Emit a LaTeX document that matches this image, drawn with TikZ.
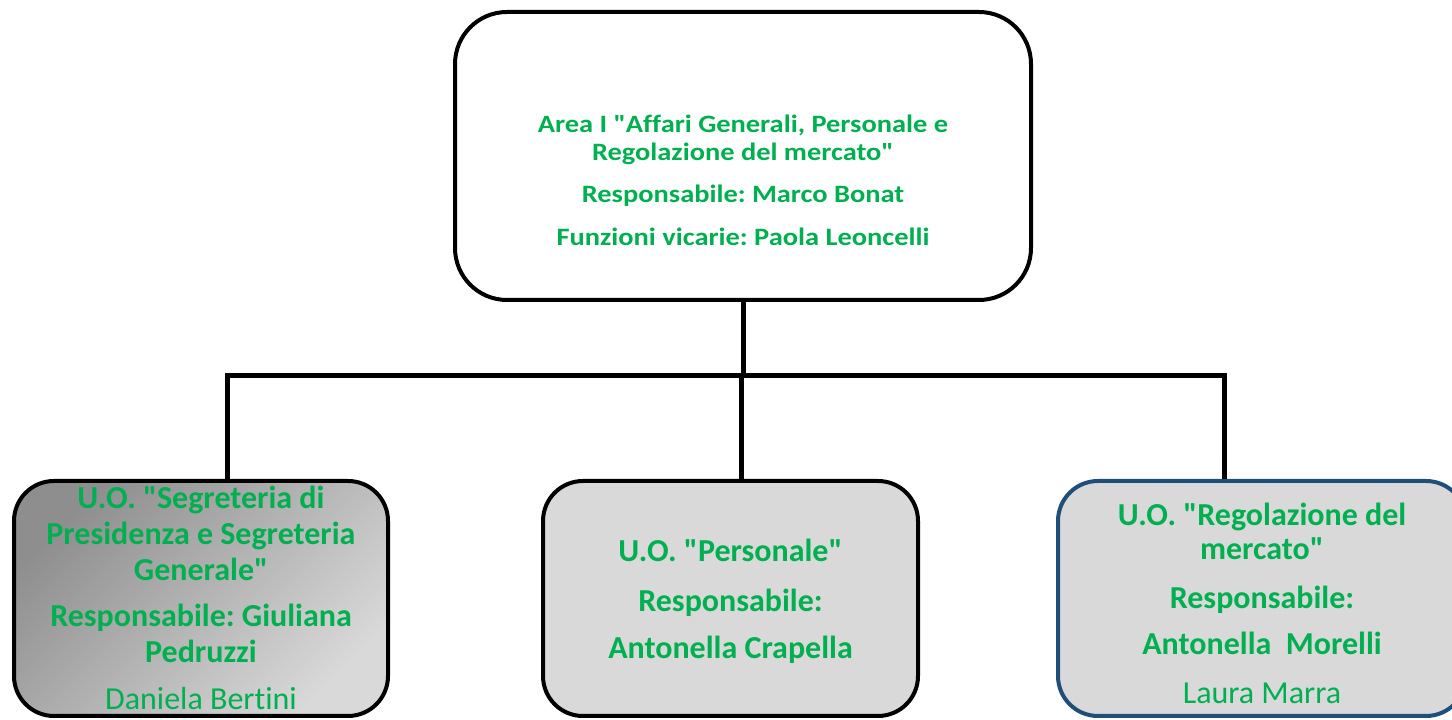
\documentclass[tikz,border=0pt]{standalone}
\usepackage{fontspec}
\setmainfont{Carlito}[Ligatures={TeXOff,NoCommon}]
\newfontfamily\topfont{Carlito}[Ligatures={TeXOff,NoCommon}, FakeStretch=1.137]
\definecolor{tgreen}{HTML}{00B050}
\definecolor{boxgray}{HTML}{D9D9D9}
\definecolor{darkgray2}{HTML}{8E8E8E}
\definecolor{navy}{HTML}{1F4E79}
\frenchspacing
\begin{document}
\begin{tikzpicture}[x=1pt,y=1pt,
  topbox/.style={draw=black, line width=4pt, rounded corners=52pt, fill=white,
    minimum width=576pt, minimum height=288pt, inner sep=0pt},
  unitbox/.style={draw=black, line width=4pt, rounded corners=40pt, fill=boxgray,
    minimum height=235pt, inner sep=0pt},
  toptext/.style={text=tgreen, align=center, font=\topfont\fontsize{25}{28}\selectfont\bfseries},
  unittext/.style={text=tgreen, align=center, font=\fontsize{32}{36}\selectfont\bfseries},
  link/.style={draw=black, line width=5pt}
]
\useasboundingbox (0,0) rectangle (1452,720);
\clip (0,0) rectangle (1452,720);
% boxes
\node[topbox] (top) at (743,564) {};
\node[unitbox, minimum width=374pt, top color=darkgray2, bottom color=boxgray, shading angle=45] (left) at (201,121.5) {};
\node[unitbox, minimum width=375pt] (mid) at (730.5,121.5) {};
\node[unitbox, minimum width=408pt, draw=navy] (right) at (1262,121.5) {};
% connectors
\coordinate (hub) at (743,344);
\coordinate (jL) at (227,344);
\coordinate (jR) at (1224,344);
\coordinate (jM) at (741,344);
\draw[link] (top.south) -- (hub);
\draw[link, line cap=rect] (jL) -- (jR);
\draw[link] (jL) -- (jL |- left.north);
\draw[link] (jM) -- (jM |- mid.north);
\draw[link] (jR) -- (jR |- right.north);
% texts
\node[toptext] (toplabel) at (743,540) {Area I "Affari Generali, Personale e\\Regolazione del mercato"\\[14pt]Responsabile: Marco Bonat\\[15pt]Funzioni vicarie: Paola Leoncelli};
\node[unittext] (leftlabel) at (201,122) {U.O. "Segreteria di\\Presidenza e Segreteria\\Generale"\\[10pt]Responsabile: Giuliana\\Pedruzzi\\[11pt]{\mdseries Daniela Bertini}};
\node[unittext] (midlabel) at (730.5,119) {U.O. "Personale"\\[14pt]Responsabile:\\[11pt]Antonella Crapella};
\node[unittext, font=\fontsize{32}{34}\selectfont\bfseries] (rightlabel) at (1262,117) {U.O. "Regolazione del\\mercato"\\[15pt]Responsabile:\\[12pt]Antonella\ \ Morelli\\[15pt]{\mdseries Laura Marra}};
\end{tikzpicture}
\end{document}
